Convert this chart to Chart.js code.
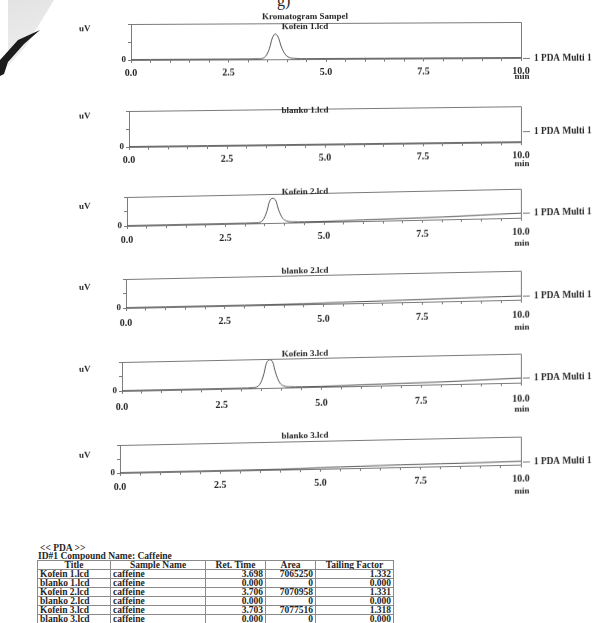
<!DOCTYPE html>
<html><head><meta charset="utf-8">
<script src="https://cdn.jsdelivr.net/npm/chart.js@4"></script>
<style>
html,body{margin:0;padding:0;background:#fff;}
body{width:606px;height:623px;overflow:hidden;position:relative;font-family:"Liberation Serif",serif;color:#262626;}
.panel{position:absolute;left:0;width:606px;}
.txt{position:absolute;font-weight:bold;font-size:9.5px;white-space:nowrap;color:#262626;}
#tbl{position:absolute;left:37px;top:560px;border-collapse:collapse;font:bold 9.5px "Liberation Serif",serif;color:#262626;table-layout:fixed;}
#tbl td{border:1px solid #8a8a8a;height:8px;line-height:8px;padding:0 2px;color:#262626;overflow:hidden;white-space:nowrap;}
#tbl td.r{text-align:right;}
#tbl td.c{text-align:center;}
#corner1{position:absolute;left:0;top:0;width:60px;height:80px;background:linear-gradient(160deg,#e2e2e2,#f3f3f3);clip-path:polygon(8px 0,54px 0,26px 46px,8px 66px);}
#corner2{position:absolute;left:0;top:0;width:45px;height:80px;background:#1c1c1c;clip-path:polygon(40px 30px,24px 44px,8px 62px,4px 74px,0 76px,0 60px,18px 40px);}
</style></head><body>
<div id="corner1"></div><div id="corner2"></div>
<div class="txt" style="left:277px;top:-8px;font-size:16px;font-weight:normal;">g)</div>
<div id="charts"></div>
<div class="txt" style="left:40px;top:543px;">&lt;&lt; PDA &gt;&gt;</div>
<div class="txt" style="left:38px;top:551px;">ID#1 Compound Name: Caffeine</div>
<table id="tbl"></table>
<script>
// ---- data ----
const xTickValues = [0, 2.5, 5, 7.5, 10];
const xTickLabels = ['0.0', '2.5', '5.0', '7.5', '10.0'];
const yTickLabels = ['0'];

const timeKofein = [0,0.5,1,1.5,2,2.5,3,3.3,3.45,3.55,3.62,3.7,3.78,3.85,3.95,4.05,4.2,4.5,5,5.5,6,6.5,7,7.5,8,8.5,9,9.5,10];
const kofein1 = [1,1,1,1,1,1,1,1.5,8,30,58,70,60,36,14,5,2,1,1,1,1,1,1,1,1,1,1,1,1];
const kofein2 = [1,1,1,1,1,1,1,1.5,10,40,75,85,76,44,16,6,2.5,1.5,1.5,2.5,4,5,6,7,8,10,12,14,16];
const kofein3 = [1,1,1,1,1,1,1,2,12,45,85,97,88,52,18,6,2.5,1.5,1.5,2.5,4,5,6,7,8,10,12,14,16];

const timeBlanko = [0,1,2,3,4,4.5,5,5.5,6,6.5,7,7.5,8,8.5,9,9.5,10];
const blanko1 = [1,1,1,1,1,1,1,1,1,1,1,1,1,1,1,1,1];
const blanko2 = [1,1,1,1,1.5,2,3,4,5,6,7,8,9,10,11,12,13];
const blanko3 = [1,1,1,1,1.5,2.5,4,5,6,7,8,8.5,9,9.5,10,11,12];

const panelTitles = [['Kromatogram Sampel','Kofein 1.lcd'],['blanko 1.lcd'],['Kofein 2.lcd'],['blanko 2.lcd'],['Kofein 3.lcd'],['blanko 3.lcd']];
const detectorLabel = '1 PDA Multi 1';

const tblHead = ['Title','Sample Name','Ret. Time','Area','Tailing Factor'];
const tblTitles = ['Kofein 1.lcd','blanko 1.lcd','Kofein 2.lcd','blanko 2.lcd','Kofein 3.lcd','blanko 3.lcd'];
const tblSample = ['caffeine','caffeine','caffeine','caffeine','caffeine','caffeine'];
const tblRet = ['3.698','0.000','3.706','0.000','3.703','0.000'];
const tblArea = ['7065250','0','7070958','0','7077516','0'];
const tblTail = ['1.332','0.000','1.331','0.000','1.318','0.000'];

// ---- layout (positions/styles) ----
const panels = [
  {t:timeKofein, v:kofein1, top:24, base:60, left:131, skew:0.3, titleDy:-6, uvDy:5, tickPad:4, minDy:19, pda:null},
  {t:timeBlanko, v:blanko1, top:111, base:147, left:129, skew:0.7, titleDy:1.5, uvDy:5, tickPad:4, minDy:22, pda:30},
  {t:timeKofein, v:kofein2, top:197, base:226, left:127, skew:1.2, titleDy:-1.5, uvDy:9, tickPad:5, minDy:26, pda:null},
  {t:timeBlanko, v:blanko2, top:279, base:308, left:126, skew:1.2, titleDy:-4, uvDy:8, tickPad:6, minDy:28, pda:null},
  {t:timeKofein, v:kofein3, top:362, base:391, left:122, skew:1.2, titleDy:-4.5, uvDy:7, tickPad:7, minDy:27, pda:null},
  {t:timeBlanko, v:blanko3, top:445, base:473, left:120, skew:1.2, titleDy:-5.5, uvDy:10, tickPad:5, minDy:27, pda:null}
];

const FONT = '"Liberation Serif", serif';
const TXT = '#262626';
const LINE = '#7a7a7a';

const deco = {
  id:'deco',
  afterDraw(chart, args, o){
    const {ctx, chartArea:a, scales:{y}} = chart;
    ctx.save();
    ctx.strokeStyle = LINE; ctx.lineWidth = 1;
    ctx.beginPath();
    ctx.moveTo(a.left, a.top+0.5); ctx.lineTo(a.right+0.5, a.top+0.5); ctx.lineTo(a.right+0.5, a.bottom);
    ctx.stroke();
    ctx.fillStyle = TXT;
    ctx.font = 'bold 9px ' + FONT;
    ctx.textBaseline = 'middle';
    ctx.textAlign = 'center';
    o.title.forEach((t,i)=>ctx.fillText(t, 305, a.top + o.titleDy + i*10));
    ctx.fillText('min', a.right + 1, a.bottom + o.minDy);
    ctx.textAlign = 'left';
    ctx.fillText('uV', 79, a.top + o.uvDy);
    const d = chart.data.datasets[0].data;
    const lvl = (o.pda === null) ? d[d.length-1].y : o.pda;
    const py = Math.round(y.getPixelForValue(lvl)) + 0.5;
    ctx.beginPath(); ctx.moveTo(a.right + 2, py); ctx.lineTo(a.right + 9, py); ctx.stroke();
    ctx.font = 'bold 9.3px ' + FONT;
    ctx.fillText(detectorLabel, a.right + 13, py);
    ctx.restore();
  }
};

const holder = document.getElementById('charts');
panels.forEach((p, i) => {
  const ct = p.top - 34;
  const h = (p.base - p.top) + 34 + 40;
  const div = document.createElement('div');
  div.className = 'panel';
  div.style.top = ct + 'px';
  div.style.height = h + 'px';
  div.style.transform = 'skewY(' + (-p.skew) + 'deg)';
  div.style.transformOrigin = p.left + 'px ' + (p.base - ct) + 'px';
  const cv = document.createElement('canvas');
  cv.width = 606; cv.height = h;
  cv.style.width = '606px'; cv.style.height = h + 'px';
  div.appendChild(cv);
  holder.appendChild(div);
  new Chart(cv, {
    type:'line',
    data:{datasets:[{data:p.t.map((t,k)=>({x:t, y:p.v[k]})), borderColor:'#555', borderWidth:1, pointRadius:0, cubicInterpolationMode:'monotone', fill:false}]},
    options:{
      responsive:false, animation:false, devicePixelRatio:1,
      layout:{padding:{left:p.left - 14, right:606 - 521, top:34, bottom:20}},
      plugins:{legend:{display:false}, tooltip:{enabled:false}, title:{display:false},
        deco:{title:panelTitles[i], titleDy:p.titleDy, uvDy:p.uvDy, minDy:p.minDy, pda:p.pda}},
      scales:{
        x:{type:'linear', min:0, max:10,
          afterFit:s=>{s.height = 20;},
          border:{color:LINE, width:1},
          grid:{drawOnChartArea:false, tickLength:3, color:LINE},
          ticks:{stepSize:0.5, autoSkip:false, maxRotation:0, padding:p.tickPad, color:TXT, font:{family:FONT, size:10, weight:'bold'},
            callback:(v)=>{const k = xTickValues.findIndex(tv=>Math.abs(tv-v)<1e-6); return k>=0 ? xTickLabels[k] : '';}}
        },
        y:{min:0, max:100,
          afterFit:s=>{s.width = 14;},
          border:{color:LINE, width:1},
          grid:{drawOnChartArea:false, tickLength:3, color:LINE},
          ticks:{stepSize:25, padding:2, color:TXT, font:{family:FONT, size:9, weight:'bold'},
            callback:(v)=> v===0 ? yTickLabels[0] : ''}
        }
      }
    },
    plugins:[deco]
  });
});

// table
const tbl = document.getElementById('tbl');
const widths = [73, 95, 60, 50, 78];
let html = '<colgroup>' + widths.map(w=>'<col style="width:'+w+'px">').join('') + '</colgroup>';
html += '<tr>' + tblHead.map(hd=>'<td class="c">'+hd+'</td>').join('') + '</tr>';
tblTitles.forEach((t,k)=>{
  html += '<tr><td>'+t+'</td><td>'+tblSample[k]+'</td><td class="r">'+tblRet[k]+'</td><td class="r">'+tblArea[k]+'</td><td class="r">'+tblTail[k]+'</td></tr>';
});
tbl.innerHTML = html;
tbl.style.width = widths.reduce((s,w)=>s+w,0) + 'px';
</script>
</body></html>
